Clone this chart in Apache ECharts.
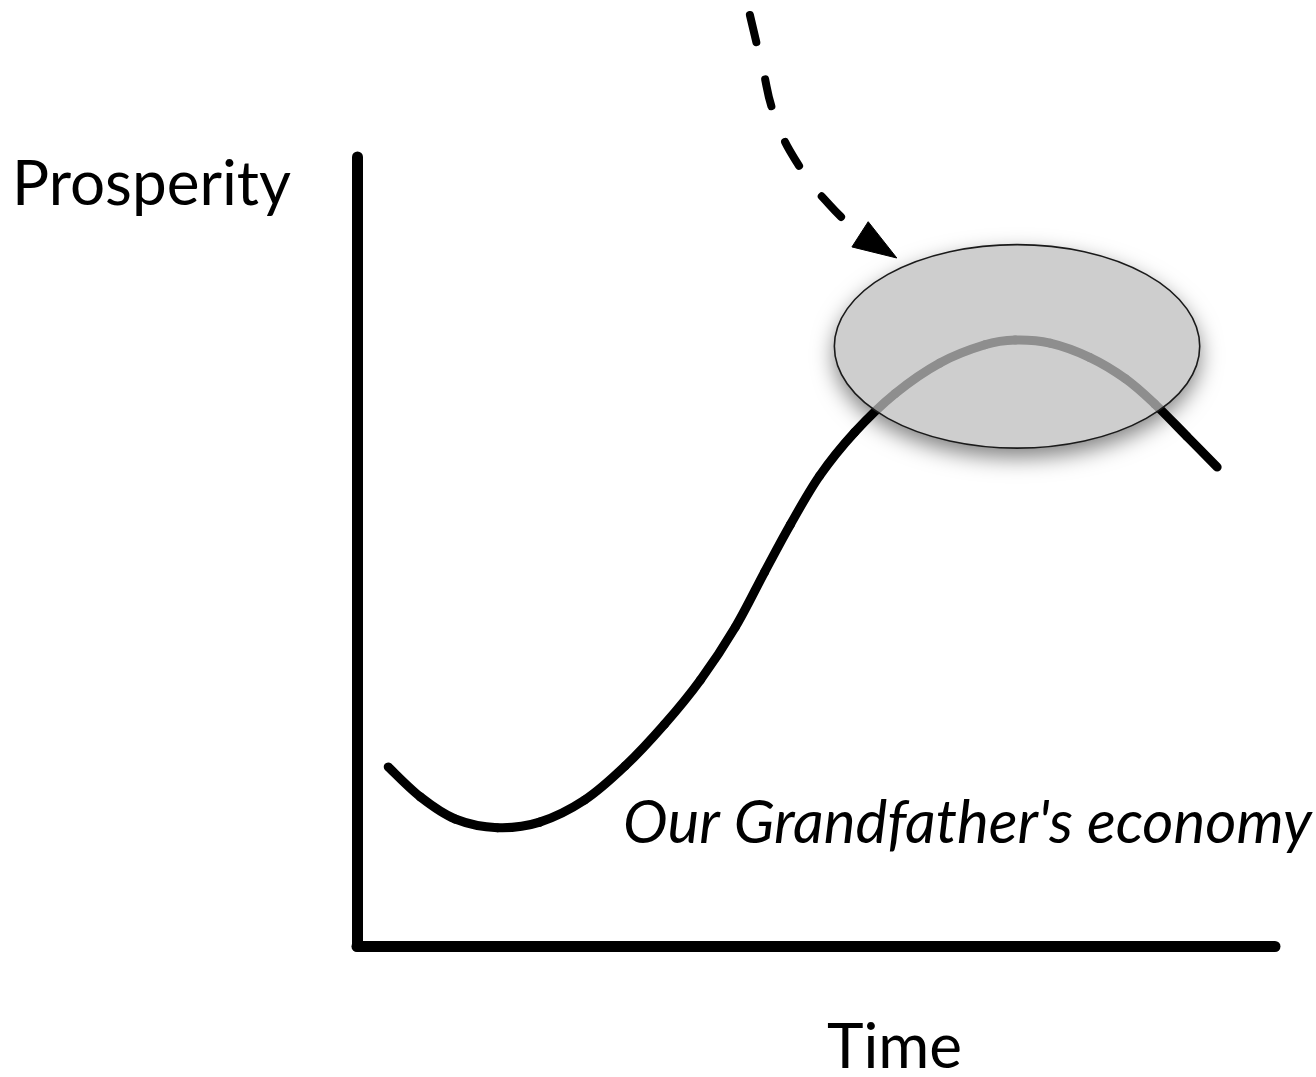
<!DOCTYPE html>
<html>
<head>
<meta charset="utf-8">
<script src="https://cdn.jsdelivr.net/npm/echarts@6/dist/echarts.min.js"></script>
<style>
html,body{margin:0;padding:0;background:#fff;}
#chart{width:1316px;height:1077px;}
</style>
</head>
<body>
<div id="chart"></div>
<script>
// Prosperity curve: [time, prosperity]
var curveTime = [3.4, 6.9, 10.7, 15.3, 19.9, 24.8, 29.2, 33.5, 37.4, 41.2, 44.4, 47.2, 50.4, 54.2, 58.6, 63.5, 68.4, 71.7, 75.5, 79.8, 83.7, 86.9, 90.4, 93.7];
var curveValue = [22.7, 18.9, 16.1, 15.0, 15.7, 18.5, 22.8, 28.1, 33.7, 40.4, 47.4, 53.4, 59.6, 65.1, 70.0, 73.9, 76.2, 76.8, 76.4, 74.6, 71.9, 68.7, 64.6, 60.7];

// Highlighted region (ellipse): [centerTime, centerValue, radiusTime, radiusValue]
var highlight = [71.9, 76.0, 19.9, 12.9];

// Dashed pointer path
var arrowTime = [42.8, 44.1, 45.6, 48.3, 51.5, 54.8];
var arrowValue = [118.0, 111.7, 104.9, 98.6, 93.9, 90.2];
// Arrow head: [baseTime, baseValue, tipTime, tipValue]
var arrowHead = [54.8, 90.2, 58.8, 87.2];

var labels = {
  y: 'Prosperity',
  x: 'Time',
  note: "Our Grandfather's economy"
};

function zip(a, b) { return a.map(function (v, i) { return [v, b[i]]; }); }

var chart = echarts.init(document.getElementById('chart'), null, {renderer: 'canvas'});

function ellipseItem(style) {
  return function (params, api) {
    var c = api.coord([api.value(0), api.value(1)]);
    var s = api.size([api.value(2), api.value(3)]);
    var rx = s[0], ry = s[1];
    var d = 'M' + (c[0] - rx) + ' ' + c[1] +
      ' A' + rx + ' ' + ry + ' 0 1 0 ' + (c[0] + rx) + ' ' + c[1] +
      ' A' + rx + ' ' + ry + ' 0 1 0 ' + (c[0] - rx) + ' ' + c[1] + ' Z';
    return {
      type: 'path',
      shape: {pathData: d},
      style: Object.assign({}, style)
    };
  };
}

// Smooth (Catmull-Rom) segment from point i to i+1, positioned via the axes.
function curveSegment(params, api) {
  var i = params.dataIndexInside;
  var n = params.dataInsideLength;
  if (i >= n - 1) return null;
  function pt(k) {
    k = Math.max(0, Math.min(n - 1, k));
    return api.coord([api.value(0, k), api.value(1, k)]);
  }
  var p0 = pt(i - 1), p1 = pt(i), p2 = pt(i + 1), p3 = pt(i + 2);
  return {
    type: 'bezierCurve',
    shape: {
      x1: p1[0], y1: p1[1], x2: p2[0], y2: p2[1],
      cpx1: p1[0] + (p2[0] - p0[0]) / 6, cpy1: p1[1] + (p2[1] - p0[1]) / 6,
      cpx2: p2[0] - (p3[0] - p1[0]) / 6, cpy2: p2[1] - (p3[1] - p1[1]) / 6
    },
    style: {stroke: '#000', lineWidth: 9, lineCap: 'round', fill: null}
  };
}

var axisCommon = {
  type: 'value', min: 0, max: 100,
  axisLine: {show: true, onZero: false, lineStyle: {color: '#000', width: 11, cap: 'round'}},
  axisTick: {show: false},
  axisLabel: {show: false},
  splitLine: {show: false}
};

chart.setOption({
  backgroundColor: '#ffffff',
  animation: false,
  grid: {left: 357, right: 41, top: 157, bottom: 131},
  xAxis: axisCommon,
  yAxis: axisCommon,
  graphic: [
    {type: 'text', left: 12, top: 154, style: {text: labels.y, font: '62px Lato', fill: '#000'}},
    {type: 'text', left: 827, top: 1017, style: {text: labels.x, font: '62px Lato', fill: '#000'}},
    {type: 'text', left: 623, top: 794, style: {text: labels.note, font: 'italic 60px Lato', fill: '#000'}}
  ],
  series: [
    {
      type: 'custom', z: 1, clip: false,
      data: [highlight],
      renderItem: ellipseItem({fill: '#ffffff', shadowBlur: 22, shadowColor: 'rgba(0,0,0,0.5)', shadowOffsetY: 9, shadowOffsetX: 0})
    },
    {
      type: 'custom', z: 2, clip: false,
      data: zip(curveTime, curveValue),
      encode: {x: 0, y: 1},
      renderItem: curveSegment
    },
    {
      type: 'custom', z: 3, clip: false,
      data: [highlight],
      renderItem: ellipseItem({fill: 'rgba(190,190,190,0.75)', stroke: '#1a1a1a', lineWidth: 1.6})
    },
    {
      type: 'line', z: 4, clip: false, smooth: 0.5, symbol: 'none',
      data: zip(arrowTime, arrowValue),
      lineStyle: {color: '#000', width: 8, type: [28, 38], cap: 'round'}
    },
    {
      type: 'custom', z: 4, clip: false,
      data: [arrowHead],
      renderItem: function (params, api) {
        var b = api.coord([api.value(0), api.value(1)]);
        var t = api.coord([api.value(2), api.value(3)]);
        var dx = t[0] - b[0], dy = t[1] - b[1];
        var len = Math.sqrt(dx * dx + dy * dy);
        var px = -dy / len * 15, py = dx / len * 15;
        return {
          type: 'polygon',
          shape: {points: [[t[0], t[1]], [b[0] + px, b[1] + py], [b[0] - px, b[1] - py]]},
          style: {fill: '#000', stroke: '#000', lineWidth: 1, lineJoin: 'round'}
        };
      }
    }
  ]
});
</script>
</body>
</html>
